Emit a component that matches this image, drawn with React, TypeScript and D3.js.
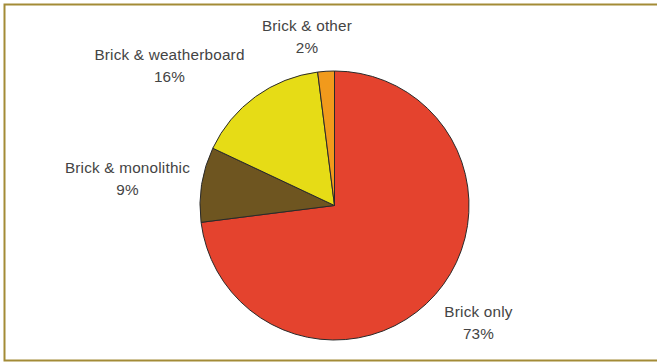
import React from "react";
import * as d3 from "d3";

const categories = ["Brick only", "Brick & monolithic", "Brick & weatherboard", "Brick & other"];
const values = [73, 9, 16, 2];
const colors = ["#e4432e", "#6e5520", "#e6dc16", "#f19a1c"];
const labelPos = [
  [478.5, 316.5],
  [127.5, 173],
  [169.5, 60],
  [307, 31],
];

export default function App() {
  const W = 657, H = 362;
  const cx = 334.5, cy = 205.5, r = 134.5;
  const pie = d3.pie<number>().sort(null).value((d) => d);
  const arcs = pie(values);
  const arc = d3.arc<d3.PieArcDatum<number>>().innerRadius(0).outerRadius(r);
  return (
    <svg width={W} height={H} style={{ position: "absolute", left: 0, top: 0, background: "#fff" }}
      fontFamily="'Liberation Sans', Arial, sans-serif">
      <rect x={4.5} y={4.5} width={W + 10} height={356} fill="#fff" stroke="#a38b36" strokeWidth={2} />
      <g transform={`translate(${cx},${cy})`}>
        {arcs.map((a, i) => (
          <path key={i} d={arc(a) || ""} fill={colors[i]} stroke="#2a2a2a" strokeWidth={1} strokeLinejoin="round" />
        ))}
      </g>
      {categories.map((c, i) => (
        <g key={c} fill="#444" fontSize={15.3} textAnchor="middle" letterSpacing={0.2}>
          <text x={labelPos[i][0]} y={labelPos[i][1]}>{c}</text>
          <text x={labelPos[i][0]} y={labelPos[i][1] + 22}>{values[i]}%</text>
        </g>
      ))}
    </svg>
  );
}
